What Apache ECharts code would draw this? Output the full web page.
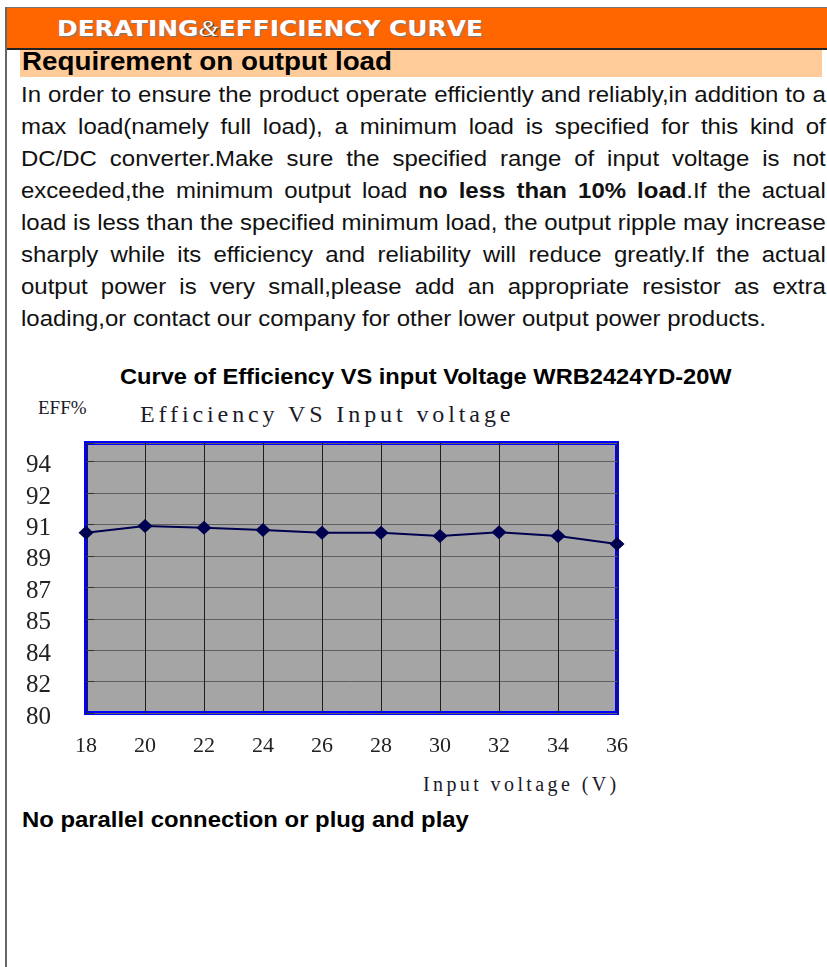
<!DOCTYPE html>
<html>
<head>
<meta charset="utf-8">
<script src="https://cdn.jsdelivr.net/npm/echarts@6/dist/echarts.min.js"></script>
<style>
  html, body { margin: 0; padding: 0; background: #fff; }
  body { width: 827px; height: 967px; position: relative; overflow: hidden; font-family: "Liberation Sans", Arial, sans-serif; }
  .abs { position: absolute; }
  .stretch { transform: scaleX(1.11); transform-origin: 0 0; white-space: nowrap; }
  #leftRule { left: 5px; top: 7px; width: 2px; height: 960px; background: #666; }
  #topRule { left: 5px; top: 7px; width: 822px; height: 1px; background: #777; }
  #header { left: 7px; top: 8px; width: 820px; height: 40px; background: #ff6600; border-bottom: 2px solid #222; }
  #headerText { left: 57px; top: 9px; line-height: 40px; font-family: "DejaVu Sans", sans-serif; font-weight: bold; font-size: 22px; color: #fff; text-shadow: 1px 1px 1px #7a7a7a; transform: scaleX(1.13); transform-origin: 0 0; white-space: nowrap; }
  #headerText .amp { font-family: "Liberation Serif", serif; font-style: italic; font-weight: normal; font-size: 23px; text-shadow: 0 0 1px #333, 1px 1px 0 #555; }
  #band { left: 20px; top: 50px; width: 802px; height: 27px; background: #ffcc99; }
  #reqTitle { left: 22px; top: 48px; line-height: 27px; font-size: 25px; font-weight: bold; color: #000; }
  #para { left: 21px; top: 78.5px; width: 725px; font-size: 21.6px; line-height: 32px; color: #111; }
  #para div { text-align: justify; text-align-last: justify; white-space: nowrap; }
  #para div.last { text-align: left; text-align-last: left; }
  #chartTitle { left: 120px; top: 362px; line-height: 30px; font-size: 21.3px; font-weight: bold; color: #000; }
  #note { left: 22px; top: 805px; line-height: 30px; font-size: 21.5px; font-weight: bold; color: #000; }
  .serif { font-family: "Liberation Serif", serif; color: #1a1a2a; white-space: nowrap; }
  #effLabel { left: 38px; top: 396px; font-size: 19px; line-height: 24px; }
  #plotTitle { left: 140px; top: 399px; font-size: 24px; line-height: 30px; letter-spacing: 3.9px; }
  #xName { left: 423px; top: 772px; font-size: 20px; line-height: 24px; letter-spacing: 3.4px; }
  #chart { position: absolute; left: 0; top: 0; width: 827px; height: 967px; }
</style>
</head>
<body>
<div class="abs" id="topRule"></div>
<div class="abs" id="header"></div>
<div class="abs" id="leftRule"></div>
<div class="abs" id="headerText">DERATING<span class="amp">&amp;</span>EFFICIENCY CURVE</div>
<div class="abs" id="band"></div>
<div class="abs stretch" id="reqTitle">Requirement on output load</div>
<div class="abs stretch" id="para">
  <div>In order to ensure the product operate efficiently and reliably,in addition to a</div>
  <div>max load(namely full load), a minimum load is specified for this kind of</div>
  <div>DC/DC converter.Make sure the specified range of input voltage is not</div>
  <div>exceeded,the minimum output load <b>no less than 10% load</b>.If the actual</div>
  <div>load is less than the specified minimum load, the output ripple may increase</div>
  <div>sharply while its efficiency and reliability will reduce greatly.If the actual</div>
  <div>output power is very small,please add an appropriate resistor as extra</div>
  <div class="last">loading,or contact our company for other lower output power products.</div>
</div>
<div class="abs stretch" id="chartTitle">Curve of Efficiency VS input Voltage WRB2424YD-20W</div>
<div class="abs serif" id="effLabel">EFF%</div>
<div class="abs serif" id="plotTitle">Efficiency VS Input voltage</div>
<div class="abs serif" id="xName">Input voltage (V)</div>
<div class="abs stretch" id="note">No parallel connection or plug and play</div>
<div id="chart"></div>
<script>
// input voltage (V) and efficiency (%)
const voltages = [18, 20, 22, 24, 26, 28, 30, 32, 34, 36];
const efficiency = [90.20, 90.58, 90.49, 90.36, 90.20, 90.20, 90.02, 90.23, 90.02, 89.57];

// y axis: 80..96 split in 9 steps, labels rounded as printed on the sheet
const yTickLabels = ["80", "82", "84", "85", "87", "89", "91", "92", "94"];
const yMin = 80;
const yStep = 16 / 9;
const yMax = 95.28;

const chart = echarts.init(document.getElementById("chart"));

const option = {
    animation: false,
    grid: {
        left: 86,
        right: 210,
        top: 443,
        bottom: 254,
        show: true,
        backgroundColor: "#a5a5a5",
        borderColor: "#0000ff",
        borderWidth: 4
    },
    xAxis: {
        type: "value",
        min: 18,
        max: 36,
        interval: 2,
        axisLine: { show: false },
        axisTick: { show: false },
        axisLabel: {
            margin: 22,
            fontFamily: "Liberation Serif",
            fontSize: 22,
            color: "#222"
        },
        splitLine: {
            show: true,
            lineStyle: { color: "#1e1e1e", width: 1 }
        }
    },
    yAxis: {
        type: "value",
        min: yMin,
        max: yMax,
        interval: yStep,
        axisLine: { show: false },
        axisTick: {
            show: true,
            inside: true,
            length: 8,
            lineStyle: { color: "#333" }
        },
        axisLabel: {
            margin: 35,
            formatter: function (v) {
                const k = (v - yMin) / yStep;
                const i = Math.round(k);
                if (Math.abs(k - i) > 0.01 || i >= yTickLabels.length) return "";
                return "{t|" + yTickLabels[i] + "}";
            },
            rich: {
                t: {
                    fontFamily: "Liberation Serif",
                    fontSize: 25,
                    color: "#222",
                    padding: [8, 0, 0, 0]
                }
            }
        },
        splitLine: {
            show: true,
            lineStyle: { color: "#5f5f5f", width: 1 }
        }
    },
    series: [
        {
            name: "Efficiency",
            type: "line",
            clip: false,
            data: voltages.map((v, i) => [v, efficiency[i]]),
            symbol: "diamond",
            symbolSize: [15, 14],
            lineStyle: { color: "#000050", width: 2 },
            itemStyle: { color: "#000050" }
        }
    ]
};

chart.setOption(option);
</script>
</body>
</html>
